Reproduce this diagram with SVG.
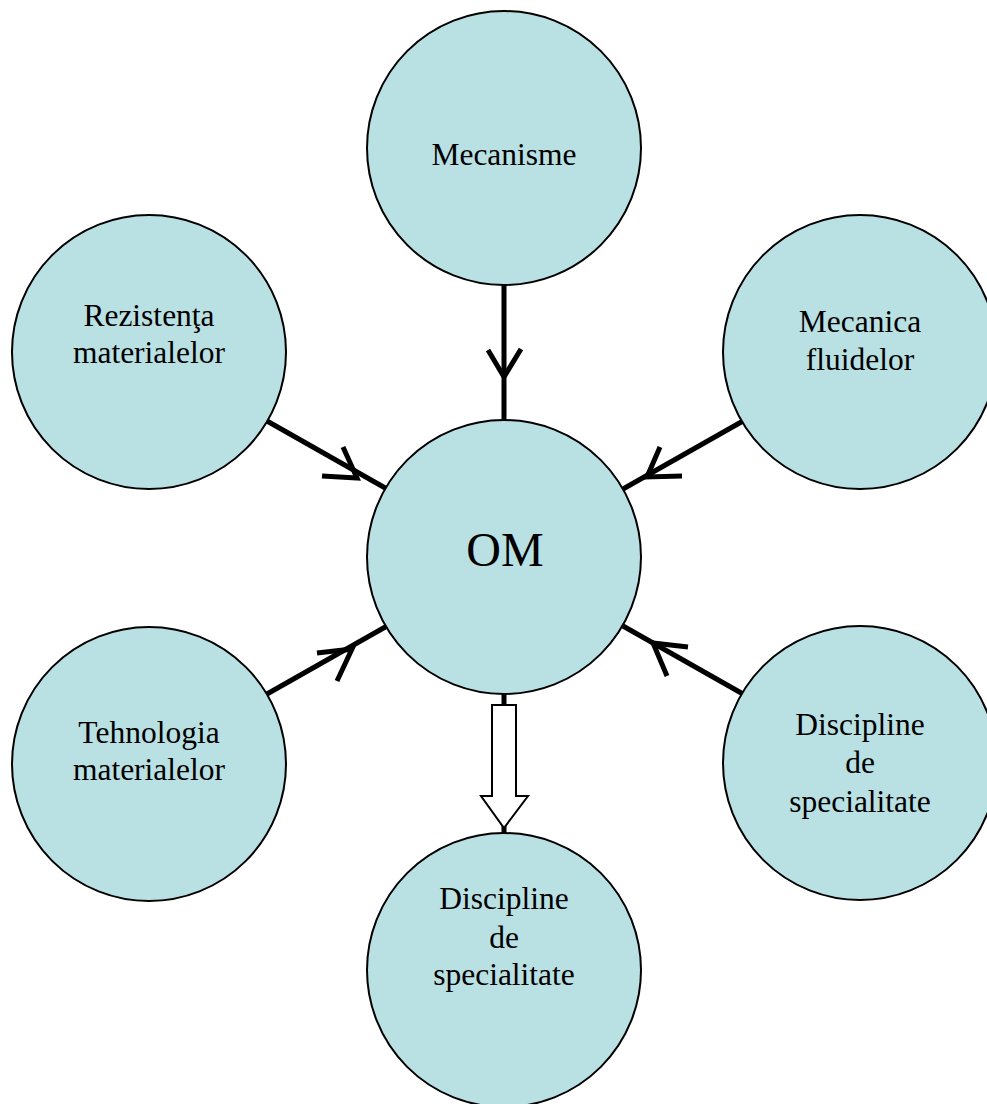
<svg xmlns="http://www.w3.org/2000/svg" width="987" height="1104" viewBox="0 0 987 1104">
  <style>
    .node circle { fill: #b9e0e3; stroke: #000; stroke-width: 2; }
    .label { font-family: "Liberation Serif", "Times New Roman", serif; font-size: 31.5px; fill: #000; text-anchor: middle; }
    .big { font-size: 48px; }
    .link { fill: none; stroke: #000; stroke-width: 5; stroke-linejoin: miter; stroke-linecap: butt; }
    .block { fill: #fff; stroke: #000; stroke-width: 2; stroke-linejoin: miter; }
  </style>
  <rect width="987" height="1104" fill="#fff"/>

  <!-- connectors (drawn first so circles sit on top of line ends) -->
  <g id="connectors">
    <!-- Mecanisme -> OM -->
    <path class="link" d="M504 285 L504 421"/>
    <path class="link" d="M488 350 L504 377 L521 349"/>
    <!-- Rezistenta materialelor -> OM -->
    <path class="link" d="M267 421 L387 489"/>
    <path class="link" d="M343 447 L357 478 L322 476"/>
    <!-- Mecanica fluidelor -> OM -->
    <path class="link" d="M743 421 L623 489"/>
    <path class="link" d="M660 447 L647 477 L682 476"/>
    <!-- Tehnologia materialelor -> OM -->
    <path class="link" d="M267 694 L387 626"/>
    <path class="link" d="M317 653 L352 649 L337 681"/>
    <!-- Discipline de specialitate (right) -> OM -->
    <path class="link" d="M743 694 L623 626"/>
    <path class="link" d="M688 647 L653 643 L667 676"/>
    <!-- OM => Discipline de specialitate (bottom): hollow block arrow -->
    <path class="link" d="M504 692 L504 706"/>
    <path class="link" d="M504 824 L504 836"/>
    <path class="block" d="M492 705 L516 705 L516 796 L528 796 L504 828 L481 796 L492 796 Z"/>
  </g>

  <g id="node-mecanisme" class="node">
    <circle cx="504" cy="148" r="137"/>
    <text class="label" x="504" y="165">Mecanisme</text>
  </g>

  <g id="node-rezistenta" class="node">
    <circle cx="149" cy="352" r="137"/>
    <text class="label" x="149" y="326">Rezistenţa</text>
    <text class="label" x="149" y="363">materialelor</text>
  </g>

  <g id="node-mecanica-fluidelor" class="node">
    <circle cx="860" cy="352" r="137"/>
    <text class="label" x="860" y="332">Mecanica</text>
    <text class="label" x="860" y="370">fluidelor</text>
  </g>

  <g id="node-om" class="node">
    <circle cx="504" cy="557" r="137"/>
    <text class="label big" x="505" y="566">OM</text>
  </g>

  <g id="node-tehnologia" class="node">
    <circle cx="149" cy="764" r="137"/>
    <text class="label" x="149" y="743">Tehnologia</text>
    <text class="label" x="149" y="780">materialelor</text>
  </g>

  <g id="node-discipline-right" class="node">
    <circle cx="860" cy="763" r="137"/>
    <text class="label" x="860" y="735">Discipline</text>
    <text class="label" x="860" y="773">de</text>
    <text class="label" x="860" y="812">specialitate</text>
  </g>

  <g id="node-discipline-bottom" class="node">
    <circle cx="504" cy="970" r="137"/>
    <text class="label" x="504" y="909">Discipline</text>
    <text class="label" x="504" y="948">de</text>
    <text class="label" x="504" y="985">specialitate</text>
  </g>
</svg>
